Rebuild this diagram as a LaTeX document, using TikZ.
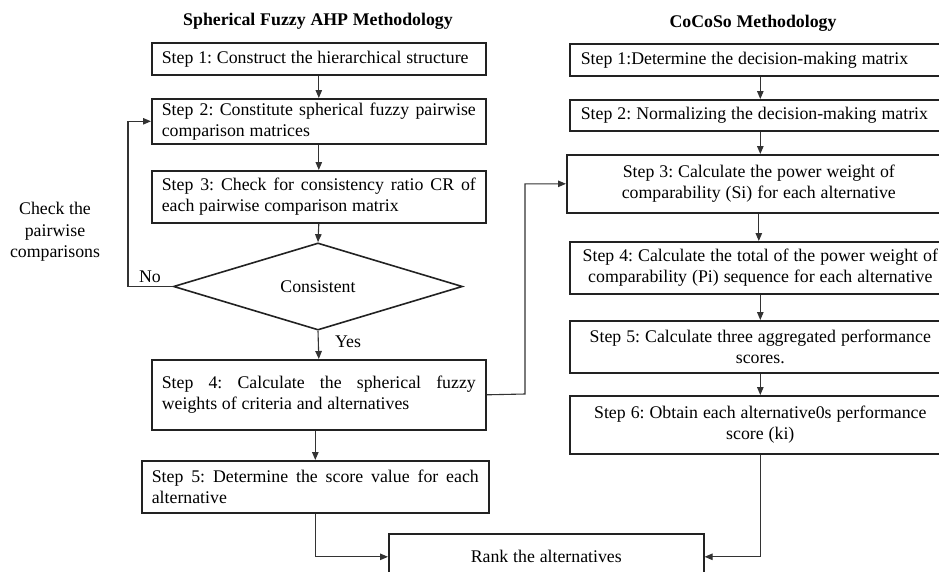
\documentclass[tikz,border=0pt]{standalone}
\usepackage{fontspec}
\setmainfont{Liberation Serif}
\usetikzlibrary{arrows.meta,shapes.geometric}
\hyphenpenalty=10000
\exhyphenpenalty=10000
\frenchspacing
\newcommand\fs{\fontsize{17.8}{21.3}\selectfont\frenchspacing\spaceskip=0.27em plus 0.3em minus 0.01em\relax}
\newcommand\fsc{\fontsize{17.8}{21.5}\selectfont}
\newcommand\wsp{\spaceskip=0.28em\xspaceskip=0.28em\relax}
\definecolor{bord}{HTML}{222222}
\definecolor{conn}{HTML}{333333}
\tikzset{
  box/.style={draw=bord, line width=1.6pt, inner ysep=0pt, inner xsep=10pt, font=\fs, anchor=north west},
  lbox/.style={box, align=justify},
  cbox/.style={box, inner xsep=11pt, align=center},
  rbox/.style={box, inner xsep=11pt, align=left},
  connector/.style={draw=conn, line width=1.1pt, -{Triangle[length=8pt,width=6.5pt]}},
  lbl/.style={font=\fs, inner sep=0pt},
  ttl/.style={font=\fs\bfseries, inner sep=0pt}
}
\begin{document}
\begin{tikzpicture}[x=1pt,y=-1pt]
\useasboundingbox (0,0) rectangle (939,571);
% titles
\node[ttl] (t1) at (318,21) {Spherical Fuzzy AHP Methodology};
\node[ttl] (t2) at (753,23) {CoCoSo Methodology};
% left column
\node[lbox, minimum width=334pt, minimum height=32pt, text width=314pt] (s1) at (151,42) {Step 1: Construct the hierarchical structure};
\node[lbox, minimum width=334pt, minimum height=45pt, text width=314pt] (s2) at (151,98) {Step 2: Constitute spherical fuzzy pairwise comparison matrices};
\node[lbox, minimum width=334pt, minimum height=52pt, text width=314pt] (s3) at (151,170) {Step 3: Check for consistency ratio CR of each pairwise comparison matrix};
\node[draw=bord, line width=1.6pt, shape=diamond, inner sep=0pt, minimum width=289pt, minimum height=79pt, font=\fs] (d) at (318,286.5) {Consistent};
\node[lbox, minimum width=334pt, minimum height=70pt, text width=314pt] (a4) at (151,359) {Step 4: Calculate the spherical fuzzy weights of criteria and alternatives};
\node[lbox, minimum width=347pt, minimum height=52pt, text width=327pt] (a5) at (141,460) {Step 5: Determine the score value for each alternative};
\node[box, minimum width=315pt, minimum height=46pt] (rank) at (388,533) {Rank the alternatives};
% right column
\node[rbox, minimum width=381pt, minimum height=32pt, text width=359pt] (b1) at (569,43) {\wsp Step 1:Determine the decision-making matrix};
\node[rbox, minimum width=381pt, minimum height=31pt, text width=359pt] (b2) at (569,99) {\wsp Step 2: Normalizing the decision-making matrix};
\node[cbox, minimum width=384pt, minimum height=58pt, text width=362pt] (b3) at (566,154) {\wsp Step 3: Calculate the power weight of\\comparability (Si) for each alternative};
\node[cbox, minimum width=381pt, minimum height=52pt, text width=359pt] (b4) at (569,241) {\wsp Step 4: Calculate the total of the power weight of\\comparability (Pi) sequence for each alternative};
\node[cbox, minimum width=381pt, minimum height=52pt, text width=359pt] (b5) at (569,320) {\wsp Step 5: Calculate three aggregated performance\\scores.};
\node[cbox, minimum width=381pt, minimum height=58pt, text width=359pt] (b6) at (569,395) {\wsp Step 6: Obtain each alternative0s performance\\score (ki)};
% labels
\node[lbl, align=center, font=\fsc] (chk) at (55,232) {Check the\\pairwise\\comparisons};
\node[lbl] (no) at (150,277) {No};
\node[lbl] (yes) at (348,342) {Yes};
% connectors left
\draw[connector] (s1.south) -- (s2.north);
\draw[connector] (s2.south) -- (s3.north);
\draw[connector] (s3.south) -- (d.north);
\draw[connector] (d.south) -- (a4.north);
\draw[connector] (a4.south -| a5.north) -- (a5.north);
\coordinate (nofree) at (128,286.5);
\draw[connector] (d.west) -- (nofree) |- (s2.west);
\coordinate (jog) at (525,394);
\draw[connector] (a4.east) -- (jog) |- (b3.west);
\draw[connector] (a5.south) |- (rank.west);
% connectors right
\draw[connector] (b1.south) -- (b2.north);
\draw[connector] (b2.south) -- (b2.south |- b3.north);
\draw[connector] (b3.south) -- (b3.south |- b4.north);
\draw[connector] (b4.south) -- (b5.north);
\draw[connector] (b5.south) -- (b6.north);
\draw[connector] (b6.south) |- (rank.east);
\end{tikzpicture}
\end{document}
